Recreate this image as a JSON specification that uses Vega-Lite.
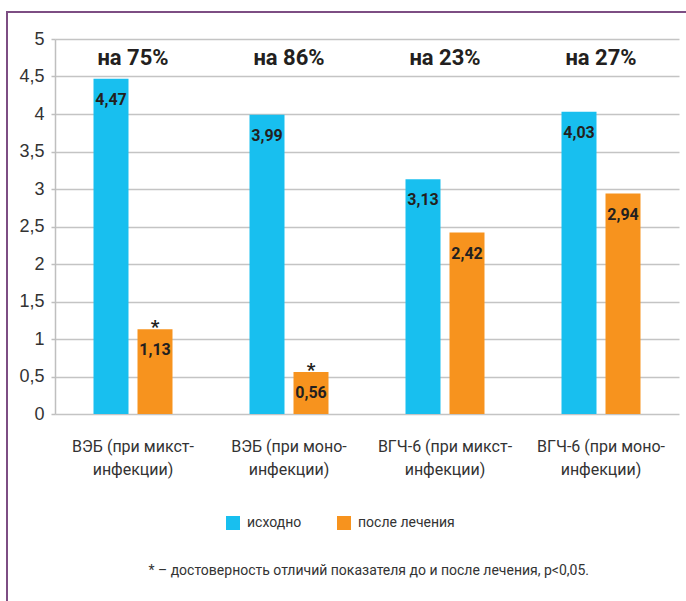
{
  "$schema": "https://vega.github.io/schema/vega-lite/v6.json",
  "width": 682,
  "height": 592,
  "autosize": {"type": "none"},
  "padding": {"left": 7, "top": 12, "right": -3, "bottom": -3},
  "background": "white",
  "config": {
    "locale": {"number": {"decimal": ",", "thousands": " ", "grouping": [3], "currency": ["", ""]}},
    "view": {"stroke": "#7D4E83", "strokeWidth": 2},
    "font": "Roboto"
  },
  "datasets": {
    "bars": [
      {"group": "ВЭБ (при микст-инфекции)", "series": "исходно", "value": 4.47, "star": ""},
      {"group": "ВЭБ (при микст-инфекции)", "series": "после лечения", "value": 1.13, "star": "*"},
      {"group": "ВЭБ (при моно-инфекции)", "series": "исходно", "value": 3.99, "star": ""},
      {"group": "ВЭБ (при моно-инфекции)", "series": "после лечения", "value": 0.56, "star": "*"},
      {"group": "ВГЧ-6 (при микст-инфекции)", "series": "исходно", "value": 3.13, "star": ""},
      {"group": "ВГЧ-6 (при микст-инфекции)", "series": "после лечения", "value": 2.42, "star": ""},
      {"group": "ВГЧ-6 (при моно-инфекции)", "series": "исходно", "value": 4.03, "star": ""},
      {"group": "ВГЧ-6 (при моно-инфекции)", "series": "после лечения", "value": 2.94, "star": ""}
    ],
    "notes": [
      {"group": "ВЭБ (при микст-инфекции)", "change": "на 75%"},
      {"group": "ВЭБ (при моно-инфекции)", "change": "на 86%"},
      {"group": "ВГЧ-6 (при микст-инфекции)", "change": "на 23%"},
      {"group": "ВГЧ-6 (при моно-инфекции)", "change": "на 27%"}
    ]
  },
  "layer": [
    {
      "data": {"name": "bars"},
      "mark": {"type": "bar"},
      "encoding": {
        "x": {
          "field": "group", "type": "nominal", "sort": null,
          "scale": {"range": [48, 672], "paddingInner": 0, "paddingOuter": 0},
          "axis": {
            "title": "* – достоверность отличий показателя до и после лечения, р<0,05.",
            "orient": "bottom", "offset": -190,
            "domain": false, "ticks": false, "grid": false,
            "labelAngle": 0, "labelOverlap": false,
            "labelFontSize": 16, "labelColor": "#333333",
            "labelPadding": 24, "labelLineHeight": 23,
            "labelExpr": "[slice(datum.label, 0, lastindexof(datum.label, '-') + 1), slice(datum.label, lastindexof(datum.label, '-') + 1)]",
            "titleFontSize": 14, "titleFontWeight": "normal", "titleColor": "#333333",
            "titleX": 141, "titleY": 156, "titleAnchor": "start", "titleAlign": "left", "titleBaseline": "middle"
          }
        },
        "xOffset": {"field": "series", "type": "nominal", "sort": null, "scale": {"paddingInner": 0.2045, "paddingOuter": 0.875}},
        "y": {
          "field": "value", "type": "quantitative",
          "scale": {"domain": [0, 5], "range": [402, 27], "nice": false},
          "axis": {
            "title": null, "offset": -48,
            "values": [0, 0.5, 1, 1.5, 2, 2.5, 3, 3.5, 4, 4.5, 5],
            "format": ".1~f",
            "labelFont": "Liberation Sans", "labelFontSize": 18, "labelColor": "#333333", "labelPadding": 7,
            "domainColor": "#bfbfbf", "domainWidth": 1.5,
            "tickColor": "#bfbfbf", "tickSize": 4, "tickWidth": 1.5,
            "gridColor": "#c4c4c4", "gridWidth": 1.5
          }
        },
        "color": {
          "field": "series", "type": "nominal",
          "scale": {"domain": ["исходно", "после лечения"], "range": ["#18BFEF", "#F7931E"]},
          "legend": {
            "title": null, "orient": "none", "legendX": 219, "legendY": 504,
            "direction": "horizontal", "symbolType": "square", "symbolSize": 196,
            "symbolStrokeWidth": 0, "symbolOpacity": 1,
            "labelFontSize": 14, "labelColor": "#333333", "labelOffset": 7,
            "columnPadding": 35, "padding": 0
          }
        }
      }
    },
    {
      "data": {"name": "bars"},
      "mark": {"type": "text", "baseline": "middle", "dy": 21, "fontSize": 16, "fontWeight": "bold", "color": "#231F20"},
      "encoding": {
        "x": {"field": "group", "type": "nominal", "sort": null},
        "xOffset": {"field": "series", "type": "nominal", "sort": null},
        "y": {"field": "value", "type": "quantitative"},
        "text": {"field": "value", "type": "quantitative", "format": ".2f"}
      }
    },
    {
      "data": {"name": "bars"},
      "mark": {"type": "text", "baseline": "alphabetic", "dy": 4, "fontSize": 19, "fontWeight": "bold", "color": "#231F20"},
      "encoding": {
        "x": {"field": "group", "type": "nominal", "sort": null},
        "xOffset": {"field": "series", "type": "nominal", "sort": null},
        "y": {"field": "value", "type": "quantitative"},
        "text": {"field": "star", "type": "nominal"}
      }
    },
    {
      "data": {"name": "notes"},
      "mark": {"type": "text", "baseline": "middle", "fontSize": 22, "fontWeight": "bold", "color": "#231F20"},
      "encoding": {
        "x": {"field": "group", "type": "nominal", "sort": null},
        "y": {"datum": 4.75, "type": "quantitative"},
        "text": {"field": "change", "type": "nominal"}
      }
    }
  ]
}
